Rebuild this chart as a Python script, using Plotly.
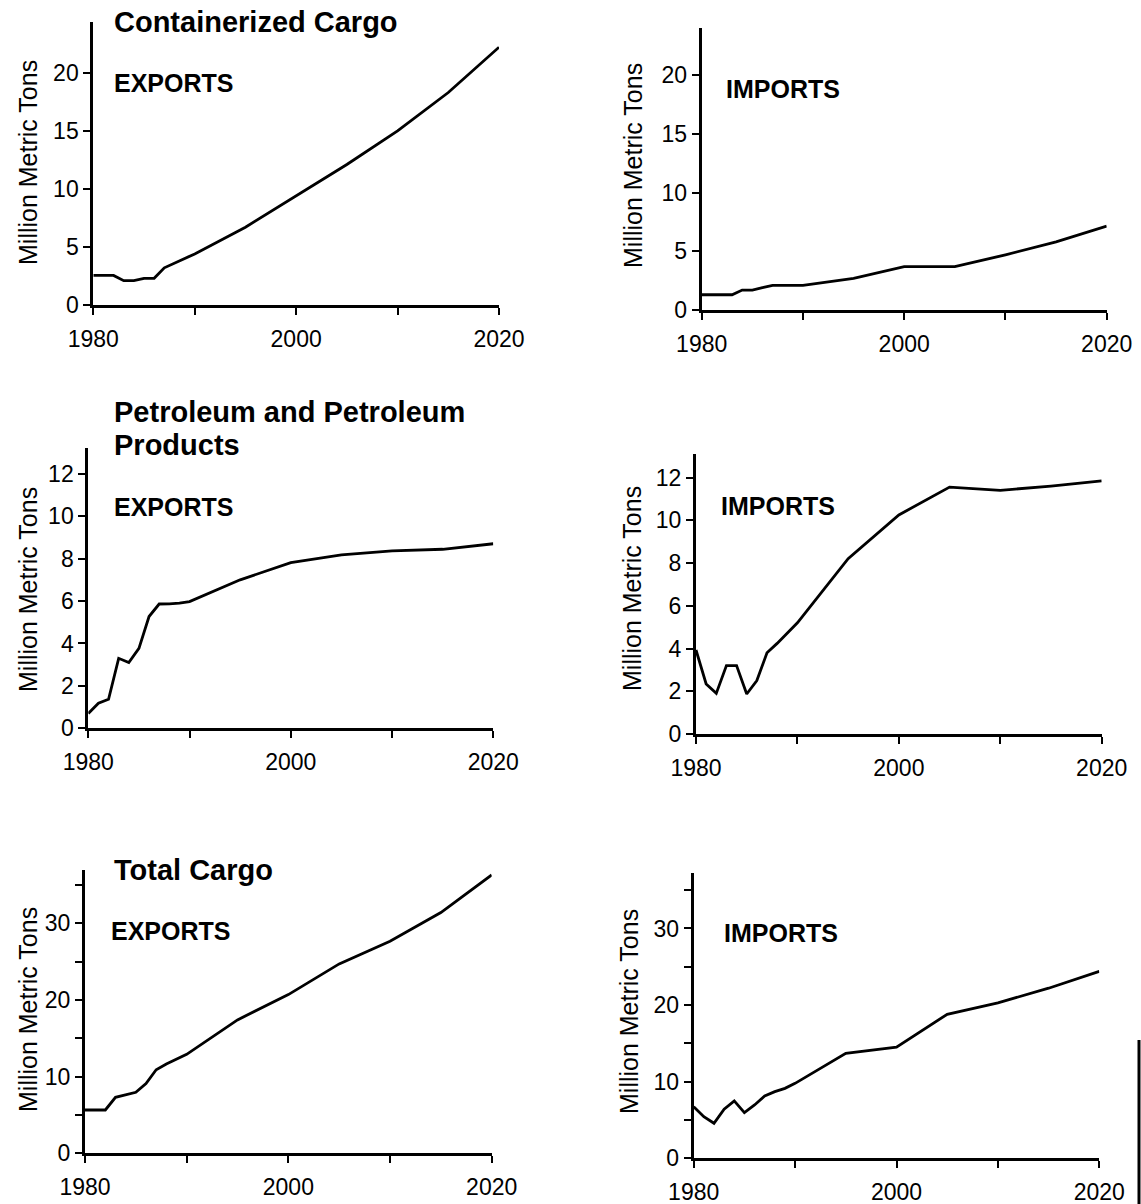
import plotly.graph_objects as go

# ---------------- data ----------------
years = [1980, 1981, 1982, 1983, 1984, 1985, 1986, 1987, 1988, 1989, 1990,
         1995, 2000, 2005, 2010, 2015, 2020]

container_exports = [2.55, 2.55, 2.55, 2.1, 2.1, 2.3, 2.3, 3.2, 3.6, 4.0, 4.4,
                     6.7, 9.4, 12.1, 15.0, 18.3, 22.2]
container_imports = [1.3, 1.3, 1.3, 1.3, 1.7, 1.7, 1.9, 2.1, 2.1, 2.1, 2.1,
                     2.7, 3.7, 3.7, 4.7, 5.8, 7.15]
petroleum_exports = [0.7, 1.18, 1.37, 3.3, 3.1, 3.77, 5.27, 5.86, 5.87, 5.9, 5.97,
                     7.0, 7.81, 8.18, 8.36, 8.44, 8.7]
petroleum_imports = [3.93, 2.34, 1.9, 3.2, 3.2, 1.87, 2.5, 3.8, 4.24, 4.7, 5.2,
                     8.2, 10.25, 11.55, 11.4, 11.6, 11.84]
total_exports = [5.65, 5.65, 5.65, 7.3, 7.6, 7.96, 9.1, 10.9, 11.65, 12.26, 12.9,
                 17.4, 20.7, 24.7, 27.65, 31.4, 36.3]
total_imports = [6.74, 5.43, 4.57, 6.4, 7.5, 5.96, 6.96, 8.13, 8.7, 9.13, 9.78,
                 13.7, 14.5, 18.8, 20.3, 22.2, 24.4]

x_tickvals = [1980, 1990, 2000, 2010, 2020]
x_ticktext = ["1980", "", "2000", "", "2020"]

y_ticks_container = [0, 5, 10, 15, 20]
y_ticks_petroleum = [0, 2, 4, 6, 8, 10, 12]
y_ticks_total = [0, 5, 10, 15, 20, 25, 30, 35]
y_text_total = ["0", "", "10", "", "20", "", "30", ""]

group_titles = ["Containerized Cargo", "Petroleum and Petroleum<br>Products", "Total Cargo"]
flow_labels = ["EXPORTS", "IMPORTS"]
y_title = "Million Metric Tons"

# ---------------- layout geometry (pixels) ----------------
W, H = 1141, 1204
# (series, x_left_px, x_right_px, y_bottom_px, y_top_px, y_max, tickvals, ticktext)
panels = [
    (container_exports, 93.3, 499.0, 305.0, 21.7, 24.4, y_ticks_container, None),
    (container_imports, 701.7, 1106.7, 310.0, 28.3, 24.0, y_ticks_container, None),
    (petroleum_exports, 88.3, 493.3, 728.3, 448.3, 13.2, y_ticks_petroleum, None),
    (petroleum_imports, 696.0, 1101.7, 734.0, 454.0, 13.1, y_ticks_petroleum, None),
    (total_exports, 85.0, 491.7, 1153.3, 870.0, 36.95, y_ticks_total, y_text_total),
    (total_imports, 693.7, 1099.3, 1158.3, 873.3, 37.2, y_ticks_total, y_text_total),
]

FONT = "Liberation Sans, Arial, Helvetica, sans-serif"
TICK_SIZE = 23

fig = go.Figure()
layout = dict(
    width=W, height=H,
    margin=dict(l=0, r=0, t=0, b=0, pad=0, autoexpand=False),
    paper_bgcolor="white", plot_bgcolor="white",
    showlegend=False,
    font=dict(family=FONT, color="black"),
)

for i, (vals, xl, xr, yb, yt, ymax, ytv, ytt) in enumerate(panels):
    n = "" if i == 0 else str(i + 1)
    fig.add_trace(go.Scatter(
        x=years, y=vals, mode="lines",
        line=dict(color="black", width=2.8),
        xaxis="x" + n, yaxis="y" + n,
        hoverinfo="skip", cliponaxis=False,
    ))
    layout["xaxis" + n] = dict(
        domain=[xl / W, xr / W], range=[1980, 2020],
        anchor="y" + n, automargin=False,
        showline=True, linecolor="black", linewidth=3,
        ticks="outside", ticklen=7, tickwidth=2, tickcolor="black",
        tickvals=x_tickvals, ticktext=x_ticktext,
        ticklabelstandoff=4,
        tickfont=dict(size=TICK_SIZE, family=FONT, color="black"),
        showgrid=False, zeroline=False, fixedrange=True,
    )
    layout["yaxis" + n] = dict(
        domain=[1 - yb / H, 1 - yt / H], range=[0, ymax],
        anchor="x" + n, automargin=False,
        showline=True, linecolor="black", linewidth=3,
        ticks="outside", ticklen=7, tickwidth=2, tickcolor="black",
        tickvals=ytv, ticktext=ytt if ytt else [str(v) for v in ytv],
        tickfont=dict(size=TICK_SIZE, family=FONT, color="black"),
        showgrid=False, zeroline=False, fixedrange=True,
    )

annotations = []


def add_text(text, x_px, y_px, size, bold=True, xanchor="left", angle=0):
    annotations.append(dict(
        text=("<b>%s</b>" % text) if bold else text,
        x=x_px / W, y=1 - y_px / H, xref="paper", yref="paper",
        xanchor=xanchor, yanchor="middle", showarrow=False,
        textangle=angle, align="left",
        font=dict(size=size, family=FONT, color="black"),
    ))


# group titles
add_text(group_titles[0], 112, 22, 29)
pet_lines = group_titles[1].split("<br>")
add_text(pet_lines[0], 112, 412, 29)
add_text(pet_lines[1], 112, 445, 29)
add_text(group_titles[2], 112, 870, 29)
# exports / imports labels
add_text(flow_labels[0], 112, 83, 25)
add_text(flow_labels[1], 724, 89, 25)
add_text(flow_labels[0], 112, 507, 25)
add_text(flow_labels[1], 719, 506, 25)
add_text(flow_labels[0], 109, 931, 25)
add_text(flow_labels[1], 722, 933, 25)
# y-axis titles
for cx, cy in [(28, 163), (633, 166), (28, 590), (632, 589), (28, 1010), (629, 1012)]:
    add_text(y_title, cx, cy, 25, bold=False, xanchor="center", angle=-90)

layout["annotations"] = annotations
# scan edge mark at the right border
layout["shapes"] = [dict(type="line", xref="paper", yref="paper",
                         x0=1139 / W, x1=1139 / W, y0=1 - 1040 / H, y1=0,
                         line=dict(color="black", width=3))]

fig.update_layout(**layout)
fig.write_html(
    "out.html",
    config={"displayModeBar": False, "staticPlot": True},
    post_script="document.body.style.margin='0';document.body.style.padding='0';"
                "document.body.style.overflow='hidden';",
)
